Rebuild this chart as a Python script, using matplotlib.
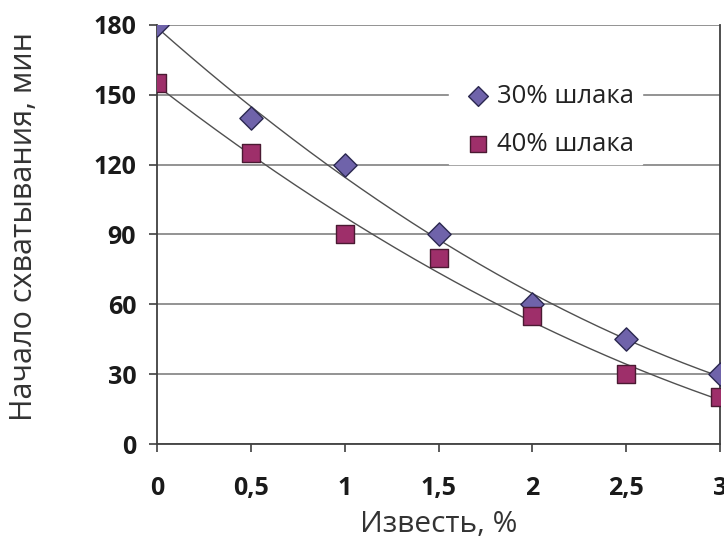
import matplotlib.pyplot as plt
import numpy as np

plt.rcParams['font.family'] = ['Open Sans', 'DejaVu Sans']

# данные
lime = [0, 0.5, 1, 1.5, 2, 2.5, 3]
slag30 = [180, 140, 120, 90, 60, 45, 30]
slag40 = [155, 125, 90, 80, 55, 30, 20]
xticks = [0, 0.5, 1, 1.5, 2, 2.5, 3]
xticklabels = ['0', '0,5', '1', '1,5', '2', '2,5', '3']
yticks = [0, 30, 60, 90, 120, 150, 180]

fig = plt.figure(figsize=(7.24, 5.40), dpi=100)
ax = fig.add_axes([157 / 724, 96 / 540, 563 / 724, 419 / 540])

# линии тренда (полином 2-й степени)
xs = np.linspace(0, 3, 200)
for ys in (slag30, slag40):
    p = np.polyfit(lime, ys, 2)
    ax.plot(xs, np.polyval(p, xs), color='#505050', lw=1.0, zorder=2)

ax.scatter(lime, slag30, marker='D', s=140, c='#6f63aa', edgecolors='#2b2850',
           linewidths=1.0, zorder=3, label='30% шлака')
ax.scatter(lime, slag40, marker='s', s=165, c='#9e2f6a', edgecolors='#4a1a32',
           linewidths=1.0, zorder=3, label='40% шлака')

ax.set_xlim(0, 3)
ax.set_ylim(0, 180)
ax.set_xticks(xticks)
ax.set_xticklabels(xticklabels)
ax.set_yticks(yticks)
ax.grid(axis='y', color='#8a8a8a', lw=1.3)
ax.set_axisbelow(True)
ax.spines['top'].set_visible(False)
for s in ('left', 'bottom', 'right'):
    ax.spines[s].set_color('#404040')
    ax.spines[s].set_linewidth(1.3)
ax.tick_params(axis='both', direction='out', length=6, width=1.2, color='#404040',
               labelsize=18)
ax.tick_params(axis='x', pad=17)
ax.tick_params(axis='y', pad=9)
for lbl in ax.get_xticklabels() + ax.get_yticklabels():
    lbl.set_fontweight('bold')
    lbl.set_color('#1a1a1a')

ax.set_xlabel('Известь, %', fontsize=21.5, color='#333333', va='center')
ax.xaxis.set_label_coords(0.5, (444 - 524) / 419)
ax.set_ylabel('Начало схватывания, мин', fontsize=22, color='#333333', va='center')
ax.yaxis.set_label_coords((24 - 157) / 563, 0.52)

leg = ax.legend(loc='center', bbox_to_anchor=(0.69, 0.773), fontsize=18.5,
                frameon=True, fancybox=False, edgecolor='white', framealpha=1,
                handletextpad=-0.05, labelspacing=0.9, borderpad=0.3,
                handlelength=1.6, borderaxespad=0,
                scatterpoints=1, markerscale=0.85)
for t in leg.get_texts():
    t.set_color('#222222')

fig.savefig('out.png', dpi=100)
